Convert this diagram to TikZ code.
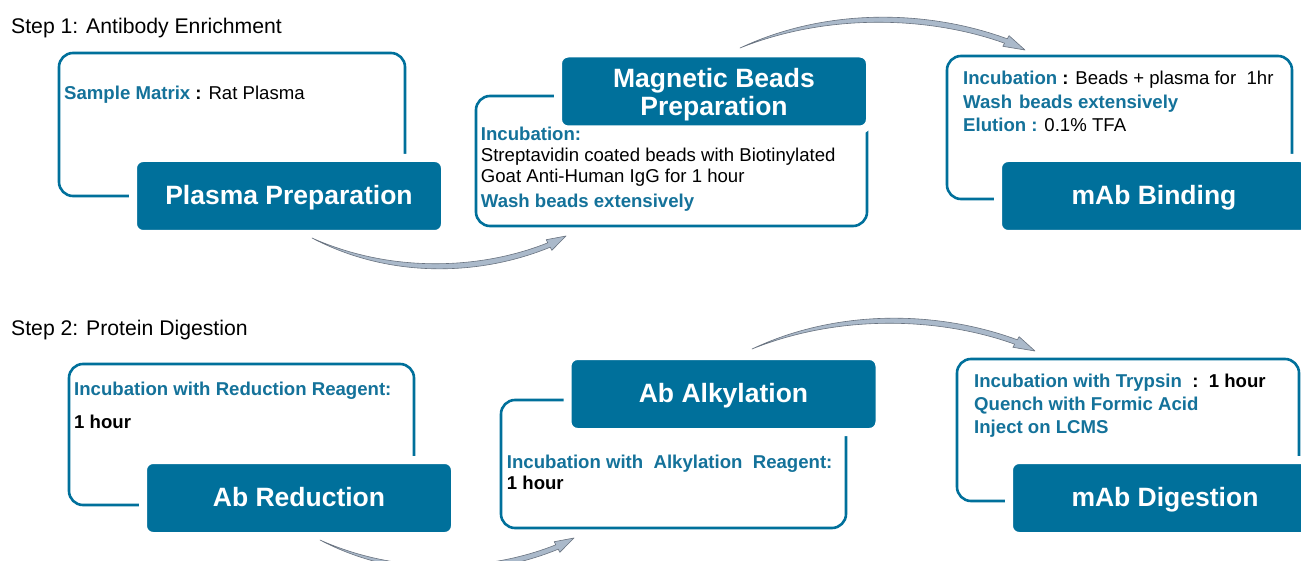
\documentclass[tikz,border=0pt]{standalone}
\usepackage{fontspec}
\setmainfont{Liberation Sans}
\usepackage{xcolor}
\usetikzlibrary{
    arrows.meta,
    positioning,
    calc
}
\definecolor{boTeal}{RGB}{0,112,155}
\definecolor{boText}{RGB}{20,114,154}
\definecolor{ArrowFill}{RGB}{170,185,202}
\definecolor{ArrowEdge}{RGB}{105,115,128}
\tikzset{
  stepbox/.style  = {draw=boTeal, line width=2.6pt, rounded corners=14pt,
                     inner sep=0pt},
  headbox/.style  = {fill=boTeal, draw=white, line width=8pt, rounded corners=10pt,
                     text=white, align=center, minimum width=312pt,
                     minimum height=76pt, font=\bfseries\fontsize{26.5}{27.6}\selectfont},
  stagebox/.style = {headbox, text height=17pt, text depth=0pt},
  notes/.style    = {anchor=north west, inner sep=0pt, align=left,
                     font=\fontsize{18.6}{21}\selectfont},
  steptitle/.style= {anchor=base west, inner sep=0pt, font=\fontsize{21.2}{24}\selectfont},
  flowarrow/.style= {fill=ArrowFill, draw=ArrowEdge, line width=0.6pt, line join=round}
}
\newcommand{\tealbf}[1]{\textcolor{boText}{\bfseries #1}}
\newcommand{\bendarrow}[2]{%
  \path[flowarrow, shift={(#1)}, #2] (0,0) .. controls (78,41) and (168,38) .. (238.2,9.2)
    -- (239.8,12.3) -- (254,-2) -- (234.2,1.7) -- (235.8,4.8)
    .. controls (168,32) and (78,35) .. (0,0) -- cycle;}

\begin{document}
\begin{tikzpicture}[x=1pt, y=-1pt]
\useasboundingbox[fill=white] (0,0) rectangle (1301,561);

% step 1
\node[steptitle] (step1) at (11,34) {Step 1: Antibody Enrichment};

\node[stepbox, minimum width=346pt, minimum height=143pt] (smbox) at (232,124.5) {};
\node[stepbox, minimum width=391pt, minimum height=130pt] (beadsbox) at (671.5,161) {};
\node[stepbox, minimum width=345pt, minimum height=143pt] (bindbox) at (1119.5,127.5) {};

\node[stagebox] (prep) at (289,196) {Plasma Preparation};
\node[headbox] (beads) at (714,91.5) {\rule{0pt}{25pt}Magnetic Beads\\Preparation};
\node[stagebox] (bind) at (1154,196) {mAb Binding};

\node[notes, anchor=base west] (smtext) at (64,99.5)
  {\tealbf{Sample Matrix} \textbf{:} Rat Plasma};
\node[notes] (beadstext) at (480.7,126.7)
  {\tealbf{Incubation:}\\
   Streptavidin coated beads with Biotinylated\\
   Goat Anti-Human IgG for 1 hour\\[4.5pt]
   \tealbf{Wash beads extensively}};
\node[notes, font=\fontsize{18.6}{23.8}\selectfont] (bindtext) at (963,70.7)
  {\tealbf{Incubation} \textbf{:} Beads + plasma for~~1hr\\
   \tealbf{Wash\hskip7pt beads extensively}\\
   \tealbf{Elution :} 0.1\% TFA};

\coordinate (a1) at ($(prep.south)+(23,0)$);
\coordinate (a2) at ($(beads.north)+(26,-1.5)$);
\bendarrow{a1}{}
\bendarrow{a2}{xscale=1.122, yscale=-1}

% step 2
\node[steptitle] (step2) at (11,335) {Step 2: Protein Digestion};

\node[stepbox, minimum width=345pt, minimum height=141pt] (redbox) at (241.5,434.5) {};
\node[stepbox, minimum width=345pt, minimum height=128pt] (alkbox) at (673.5,464) {};
\node[stepbox, minimum width=342pt, minimum height=142pt] (digbox) at (1128,430) {};

\node[stagebox] (red) at (299,498) {Ab Reduction};
\node[stagebox] (alk) at (723.5,394) {Ab Alkylation};
\node[stagebox] (dig) at (1165,498) {mAb Digestion};

\node[notes] (redtext) at (74,381.7)
  {\tealbf{Incubation with Reduction Reagent:}\\[12.3pt]
   \textbf{1 hour}};
\node[notes] (alktext) at (506.7,455)
  {\tealbf{Incubation with~~Alkylation~~Reagent:}\\
   \textbf{1 hour}};
\node[notes, font=\fontsize{18.6}{23.3}\selectfont] (digtext) at (974,373.4)
  {\tealbf{Incubation with Trypsin}~~\textbf{:}~~\textbf{1 hour}\\
   \tealbf{Quench with Formic Acid}\\
   \tealbf{Inject on LCMS}};

\coordinate (a3) at ($(red.south)+(21,0)$);
\coordinate (a4) at ($(alk.north)+(28.5,-3)$);
\bendarrow{a3}{}
\bendarrow{a4}{xscale=1.114, yscale=-1}
\end{tikzpicture}
\end{document}
